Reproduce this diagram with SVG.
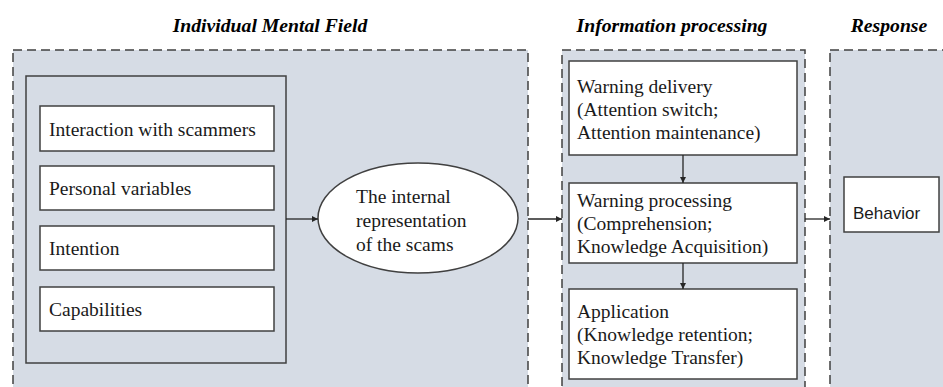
<svg xmlns="http://www.w3.org/2000/svg" width="943" height="387" viewBox="0 0 943 387">
  <defs>
    <marker id="arrow" viewBox="0 0 10 10" refX="10" refY="5" markerWidth="6" markerHeight="6" markerUnits="userSpaceOnUse" orient="auto">
      <path d="M0,0 L10,5 L0,10 z" fill="#262626"/>
    </marker>
  </defs>
  <style>
    .panel { fill: #d6dce5; stroke: #404040; stroke-width: 1.5; stroke-dasharray: 9 5; }
    .frame { fill: none; stroke: #404040; stroke-width: 1.5; }
    .box { fill: #ffffff; stroke: #404040; stroke-width: 1.5; }
    .title { font-family: 'Liberation Serif', 'DejaVu Serif', serif; font-weight: bold; font-style: italic; font-size: 19.7px; fill: #000; text-anchor: middle; }
    .label { font-family: 'Liberation Serif', 'DejaVu Serif', serif; font-size: 19.5px; fill: #1a1a1a; }
    .sans { font-family: 'Liberation Sans', Arial, sans-serif; font-size: 17px; fill: #1a1a1a; }
    .conn { fill: none; stroke: #262626; stroke-width: 1.3; marker-end: url(#arrow); }
  </style>
  <rect width="943" height="387" fill="#ffffff"/>

  <!-- section headings -->
  <text class="title" x="270" y="32">Individual Mental Field</text>
  <text class="title" x="672" y="32">Information processing</text>
  <text class="title" x="889" y="32">Response</text>

  <!-- dashed section panels (open at the bottom edge) -->
  <g id="panel-mental">
    <rect class="panel" x="13" y="50" width="515" height="345"/>
  </g>
  <g id="panel-processing">
    <rect class="panel" x="562" y="50" width="243" height="345"/>
  </g>
  <g id="panel-response">
    <rect class="panel" x="830" y="50" width="130" height="345"/>
  </g>

  <!-- factor group -->
  <g id="factors">
    <rect class="frame" x="26" y="76" width="260" height="287"/>
  </g>
  <g id="interaction">
    <rect class="box" x="40" y="106" width="234" height="45"/>
    <text class="label" x="49" y="136">Interaction with scammers</text>
  </g>
  <g id="personal">
    <rect class="box" x="40" y="166" width="234" height="44"/>
    <text class="label" x="49" y="195">Personal variables</text>
  </g>
  <g id="intention">
    <rect class="box" x="40" y="226" width="234" height="44"/>
    <text class="label" x="49" y="255">Intention</text>
  </g>
  <g id="capabilities">
    <rect class="box" x="40" y="287" width="234" height="44"/>
    <text class="label" x="49" y="316">Capabilities</text>
  </g>

  <!-- internal representation -->
  <g id="representation">
    <ellipse class="box" cx="418" cy="218" rx="100" ry="55"/>
    <text class="label" x="356" y="203">The internal</text>
    <text class="label" x="356" y="227">representation</text>
    <text class="label" x="356" y="251">of the scams</text>
  </g>

  <!-- information processing stages -->
  <g id="delivery">
    <rect class="box" x="569" y="61" width="228" height="94"/>
    <text class="label" x="577" y="93">Warning delivery</text>
    <text class="label" x="577" y="116">(Attention switch;</text>
    <text class="label" x="577" y="139">Attention maintenance)</text>
  </g>
  <g id="processing">
    <rect class="box" x="569" y="183" width="228" height="80"/>
    <text class="label" x="577" y="207">Warning processing</text>
    <text class="label" x="577" y="230">(Comprehension;</text>
    <text class="label" x="577" y="253">Knowledge Acquisition)</text>
  </g>
  <g id="application">
    <rect class="box" x="569" y="289" width="228" height="90"/>
    <text class="label" x="577" y="318">Application</text>
    <text class="label" x="577" y="341">(Knowledge retention;</text>
    <text class="label" x="577" y="364">Knowledge Transfer)</text>
  </g>

  <!-- response -->
  <g id="behavior">
    <rect class="box" x="844" y="177" width="95" height="55"/>
    <text class="sans" x="853" y="219">Behavior</text>
  </g>

  <!-- connectors -->
  <g id="connectors">
    <line class="conn" x1="286" y1="219" x2="318" y2="219"/>
    <line class="conn" x1="528" y1="219" x2="562" y2="219"/>
    <line class="conn" x1="683" y1="155" x2="683" y2="183"/>
    <line class="conn" x1="683" y1="263" x2="683" y2="289"/>
    <line class="conn" x1="805" y1="219" x2="830" y2="219"/>
  </g>
</svg>
